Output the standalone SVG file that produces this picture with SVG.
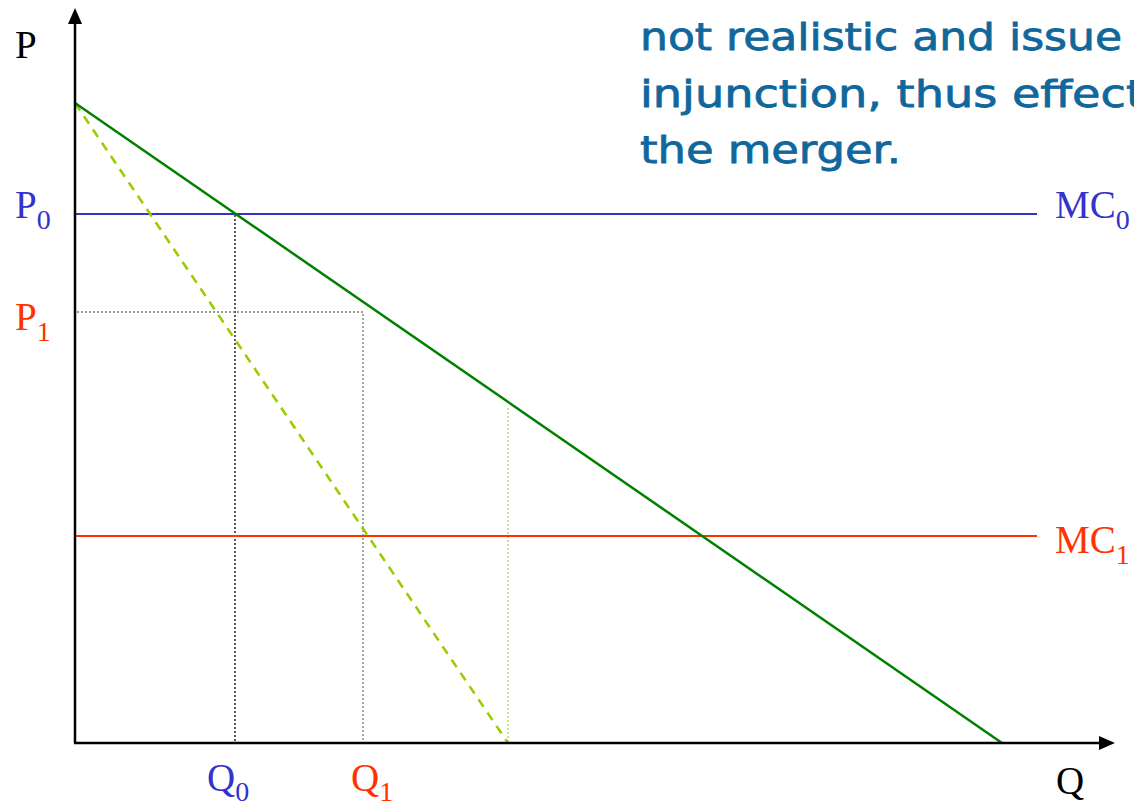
<svg xmlns="http://www.w3.org/2000/svg" width="1134" height="807" viewBox="0 0 1134 807">
<style>
.lbl{font-family:"Liberation Serif","Times New Roman",serif;font-size:39px}
.sub{font-size:28px}
.blue{fill:#3333cc}
.red{fill:#ff3300}
.note{font-family:"Comic Sans MS","DejaVu Sans",sans-serif;font-size:38px;fill:#10679c;stroke:#10679c;stroke-width:0.8}
.axis{stroke:#000;stroke-width:2.5;fill:none}
.dot{stroke-width:1.3;stroke-dasharray:2 2;fill:none}
</style>
<rect width="1134" height="807" fill="#fff"/>
<g id="note">
<text class="note" x="640" y="50" textLength="482" lengthAdjust="spacingAndGlyphs">not realistic and issue</text>
<text class="note" x="640" y="107" textLength="504" lengthAdjust="spacingAndGlyphs">injunction, thus effect</text>
<text class="note" x="640" y="163" textLength="261" lengthAdjust="spacingAndGlyphs">the merger.</text>
</g>
<g id="connectors">
<line class="dot" x1="235" y1="215" x2="235" y2="742" stroke="#000"/>
<polyline class="dot" points="77,312 363,312 363,742" stroke="#777"/>
<line class="dot" x1="508" y1="408" x2="508" y2="742" stroke="#b5cc66"/>
<line x1="75" y1="214" x2="1037" y2="214" stroke="#3333cc" stroke-width="2"/>
<line x1="75" y1="536" x2="1037" y2="536" stroke="#ff3300" stroke-width="2"/>
<line x1="75" y1="103" x2="508" y2="743" stroke="#99cc00" stroke-width="2.5" stroke-dasharray="9 7"/>
<line x1="75" y1="103" x2="1002" y2="743" stroke="#008000" stroke-width="2.5"/>
</g>
<g id="axes">
<line class="axis" x1="75" y1="743" x2="75" y2="22"/>
<polygon points="75,8 68,24 82,24" fill="#000"/>
<line class="axis" x1="74" y1="743" x2="1100" y2="743"/>
<polygon points="1115,743 1099,736 1099,750" fill="#000"/>
</g>
<g id="labels">
<text class="lbl" x="15" y="58">P</text>
<text class="lbl blue" x="15" y="218">P<tspan class="sub" dy="11">0</tspan></text>
<text class="lbl red" x="15" y="330">P<tspan class="sub" dy="11">1</tspan></text>
<text class="lbl blue" x="1055" y="218">MC<tspan class="sub" dy="11">0</tspan></text>
<text class="lbl red" x="1055" y="553">MC<tspan class="sub" dy="11">1</tspan></text>
<text class="lbl blue" x="207" y="791">Q<tspan class="sub" dy="10">0</tspan></text>
<text class="lbl red" x="351" y="791">Q<tspan class="sub" dy="10">1</tspan></text>
<text class="lbl" x="1056" y="794">Q</text>
</g>
</svg>
